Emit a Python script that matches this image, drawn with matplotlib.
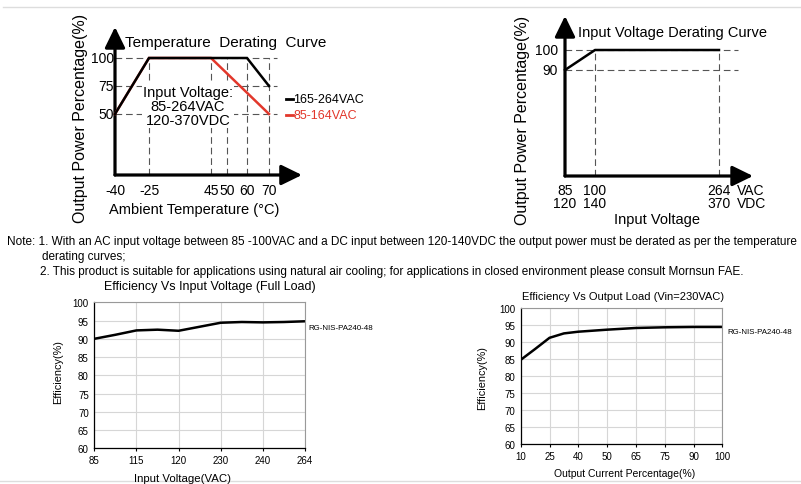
import numpy as np
import matplotlib
matplotlib.use("Agg")
import matplotlib.pyplot as plt
from matplotlib.lines import Line2D
from matplotlib.transforms import blended_transform_factory as blend

plt.rcParams['font.family'] = ['Liberation Sans', 'DejaVu Sans']

# ---------------- data ----------------
temp_ticks = [-40, -25, 45, 50, 60, 70]
power_ticks = [100, 75, 50]
temp_black_x = [-40, -25, 60, 70]
temp_black_y = [50, 100, 100, 75]
temp_red_x = [-40, -25, 45, 70]
temp_red_y = [50, 100, 100, 50]

vin_ticks_ac = [85, 100, 264]
vin_ticks_dc = [120, 140, 370]
vin_power_ticks = [100, 90]
vin_x = [85, 100, 264]
vin_y = [90, 100, 100]

eff_vin_ticks = [85, 115, 120, 230, 240, 264]
eff_vin_x = [85, 100, 115, 117.5, 120, 175, 230, 235, 240, 252, 264]
eff_vin_y = [90.0, 91.1, 92.3, 92.5, 92.2, 93.3, 94.4, 94.6, 94.5, 94.6, 94.8]

eff_load_ticks = [10, 25, 40, 50, 65, 75, 90, 100]
eff_load_x = [10, 17.5, 25, 32.5, 40, 45, 50, 65, 75, 90, 100]
eff_load_y = [84.8, 88.0, 91.3, 92.6, 93.1, 93.4, 93.7, 94.2, 94.4, 94.5, 94.5]

eff_yticks = [60, 65, 70, 75, 80, 85, 90, 95, 100]

# ---------------- layout helpers ----------------
W, H = 801, 485
fig = plt.figure(figsize=(W / 100, H / 100), dpi=100)
fig.patch.set_facecolor('white')


def ax_px(l, t, r, b):
    return fig.add_axes([l / W, 1 - b / H, (r - l) / W, (b - t) / H])


def txt(x, y, s, **kw):
    return fig.text(x / W, 1 - y / H, s, **kw)


def fline(x1, y1, x2, y2, **kw):
    fig.add_artist(Line2D([x1 / W, x2 / W], [1 - y1 / H, 1 - y2 / H],
                          transform=fig.transFigure, **kw))


def piecewise(vals, pos):
    vals = np.asarray(vals, float)
    pos = np.asarray(pos, float)

    def make(a, b):
        def f(x):
            x = np.asarray(x, float)
            y = np.interp(x, a, b)
            lo_s = (b[1] - b[0]) / (a[1] - a[0])
            hi_s = (b[-1] - b[-2]) / (a[-1] - a[-2])
            y = np.where(x < a[0], b[0] + (x - a[0]) * lo_s, y)
            y = np.where(x > a[-1], b[-1] + (x - a[-1]) * hi_s, y)
            return y
        return f
    return make(vals, pos), make(pos, vals)


DASH = dict(color='#555555', lw=0.8, linestyle=(0, (6, 3.5)), zorder=1, clip_on=False)
RED = '#e2372b'
ARROW = dict(arrowstyle='-|>,head_length=0.45,head_width=0.22', lw=2.3, color='black',
             mutation_scale=28, shrinkA=0, shrinkB=0)

# frame lines
fline(3, 8, 801, 8, color='#dddddd', lw=1)
fline(0, 482, 801, 482, color='#dddddd', lw=1)

# ---------------- top-left: temperature derating ----------------
ax1 = ax_px(115, 59, 269, 176)
ax1.set_xscale('function', functions=piecewise(temp_ticks, [0, 34, 96, 112, 132, 154]))
ax1.set_xlim(-40, 70)
ax1.set_ylim(-4.5, 100)
ax1.axis('off')
ymin1 = -4.5
for v in power_ticks:
    ax1.plot([0, 1.052], [v, v], transform=ax1.get_yaxis_transform(), **DASH)
for v in temp_ticks[1:]:
    ax1.plot([v, v], [ymin1, 100], **DASH)
ax1.annotate('', xy=(1.214, 0), xytext=(0, 0), xycoords='axes fraction', arrowprops=ARROW)
ax1.annotate('', xy=(0, 1.265), xytext=(0, 0), xycoords='axes fraction', arrowprops=ARROW)
ax1.plot(temp_red_x, temp_red_y, color=RED, lw=1.8, zorder=3, clip_on=False,
         solid_joinstyle='miter')
ax1.plot(temp_black_x, temp_black_y, color='black', lw=1.8, zorder=4, clip_on=False,
         solid_joinstyle='miter')
txt(188, 107, 'Input Voltage:\n85-264VAC\n120-370VDC', ha='center', va='center',
    fontsize=10.5, linespacing=1.0, zorder=2,
    bbox=dict(facecolor='white', edgecolor='none', pad=0.5))
tr = blend(ax1.transData, fig.transFigure)
for v in temp_ticks:
    ax1.text(v, 1 - 191 / H, str(v), transform=tr, ha='center', va='center', fontsize=10)
tr = blend(fig.transFigure, ax1.transData)
for v in power_ticks:
    ax1.text(114 / W, v, str(v), transform=tr, ha='right', va='center', fontsize=10)
txt(226, 43, 'Temperature  Derating  Curve', ha='center', va='center', fontsize=11)
txt(194, 210, 'Ambient Temperature (°C)', ha='center', va='center', fontsize=10.5)
txt(81, 118, 'Output Power Percentage(%)', ha='center', va='center', rotation=90,
    fontsize=11.5)
fline(286, 100, 293, 100, color='black', lw=2)
txt(293, 100, '165-264VAC', ha='left', va='center', fontsize=9)
fline(286, 116, 293, 116, color=RED, lw=2)
txt(293, 116, '85-164VAC', ha='left', va='center', fontsize=9, color=RED)

# ---------------- top-right: input voltage derating ----------------
ax2 = ax_px(565, 51, 719, 177)
ax2.set_xscale('function', functions=piecewise(vin_ticks_ac, [0, 30, 154]))
ax2.set_xlim(85, 264)
ax2.set_ylim(37, 100)
ax2.axis('off')
for v in vin_power_ticks:
    ax2.plot([0, 1.123], [v, v], transform=ax2.get_yaxis_transform(), **DASH)
for v in vin_ticks_ac[1:]:
    ax2.plot([v, v], [37, 100], **DASH)
ax2.annotate('', xy=(1.221, 0), xytext=(0, 0), xycoords='axes fraction', arrowprops=ARROW)
ax2.annotate('', xy=(0, 1.27), xytext=(0, 0), xycoords='axes fraction', arrowprops=ARROW)
ax2.plot(vin_x, vin_y, color='black', lw=1.8, zorder=4, clip_on=False)
tr = blend(ax2.transData, fig.transFigure)
for a, d in zip(vin_ticks_ac, vin_ticks_dc):
    ax2.text(a, 1 - 184 / H, f'{a}\n{d}', transform=tr, ha='center', va='top',
             fontsize=10, linespacing=0.95)
txt(737, 184, 'VAC\nVDC', ha='left', va='top', fontsize=10, linespacing=0.95)
tr = blend(fig.transFigure, ax2.transData)
for v in vin_power_ticks:
    ax2.text(558 / W, v, str(v), transform=tr, ha='right', va='center', fontsize=10)
txt(672, 33, 'Input Voltage Derating Curve', ha='center', va='center', fontsize=10.5)
txt(657, 220, 'Input Voltage', ha='center', va='center', fontsize=10.5)
txt(522, 120, 'Output Power Percentage(%)', ha='center', va='center', rotation=90,
    fontsize=11.5)

# ---------------- notes ----------------
txt(7, 242, 'Note: 1. With an AC input voltage between 85 -100VAC and a DC input between '
    '120-140VDC the output power must be derated as per the temperature',
    ha='left', va='center', fontsize=8.5)
txt(42, 257, 'derating curves;', ha='left', va='center', fontsize=8.5)
txt(40, 272, '2. This product is suitable for applications using natural air cooling; '
    'for applications in closed environment please consult Mornsun FAE.',
    ha='left', va='center', fontsize=8.5)


# ---------------- bottom efficiency charts ----------------
def eff_axes(ax, ticks):
    ax.set_xscale('function', functions=piecewise(ticks, np.arange(len(ticks))))
    ax.set_xlim(ticks[0], ticks[-1])
    ax.set_ylim(60, 100)
    ax.set_xticks(ticks)
    ax.set_xticklabels([str(t) for t in ticks])
    ax.set_yticks(eff_yticks)
    ax.grid(True, color='#d6d6d6', lw=0.8)
    ax.set_axisbelow(True)
    for s in ('left', 'bottom'):
        ax.spines[s].set_color('black')
        ax.spines[s].set_linewidth(0.9)
    for s in ('top', 'right'):
        ax.spines[s].set_color('#999999')
        ax.spines[s].set_linewidth(0.8)
    ax.tick_params(axis='x', length=2.5, width=0.8, pad=2.5, labelsize=7)
    ax.tick_params(axis='y', length=0, pad=4, labelsize=7)


ax3 = ax_px(94.3, 303.3, 305, 449.3)
eff_axes(ax3, eff_vin_ticks)
ax3.plot(eff_vin_x, eff_vin_y, color='black', lw=1.8, solid_capstyle='butt')
txt(210, 287, 'Efficiency Vs Input Voltage (Full Load)', ha='center', va='center', fontsize=9)
txt(183, 479, 'Input Voltage(VAC)', ha='center', va='center', fontsize=8.2)
txt(58, 372, 'Efficiency(%)', ha='center', va='center', rotation=90, fontsize=7.8)
txt(308, 328, 'RG-NIS-PA240-48', ha='left', va='center', fontsize=5.7)

ax4 = ax_px(520.7, 309.3, 722.3, 445)
eff_axes(ax4, eff_load_ticks)
ax4.plot(eff_load_x, eff_load_y, color='black', lw=1.8, solid_capstyle='butt')
txt(623, 297, 'Efficiency Vs Output Load (Vin=230VAC)', ha='center', va='center', fontsize=8)
txt(625, 474, 'Output Current Percentage(%)', ha='center', va='center', fontsize=7.5)
txt(482, 378, 'Efficiency(%)', ha='center', va='center', rotation=90, fontsize=7.8)
txt(727, 333, 'RG-NIS-PA240-48', ha='left', va='center', fontsize=5.7)

fig.savefig('out.png', dpi=100, facecolor='white')
